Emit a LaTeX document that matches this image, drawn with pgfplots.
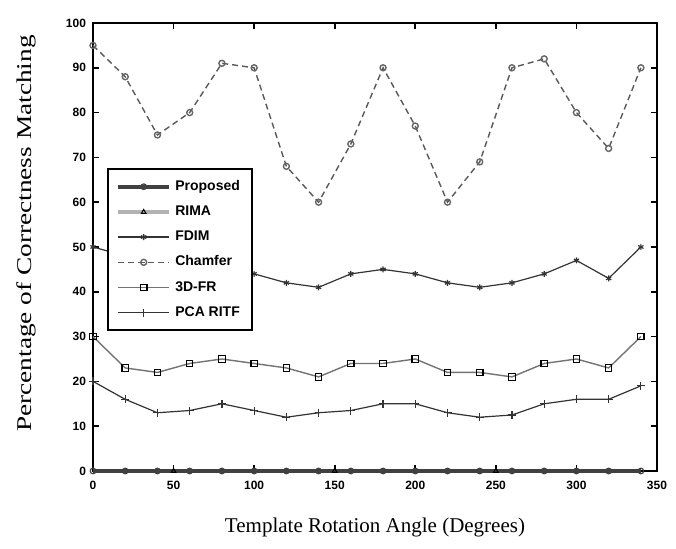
\documentclass[border=0pt]{standalone}
\usepackage{fontspec}
\setmainfont{Liberation Serif}
\newfontfamily\ticksf{Liberation Sans}
\usepackage{graphicx}
\usepackage{pgfplots}
\pgfplotsset{compat=1.18}

\begin{document}
\begin{tikzpicture}
\begin{axis}[
  width=282pt, height=224pt, scale only axis,
  xmin=0, xmax=350, ymin=0, ymax=100,
  xtick={0,50,...,350}, ytick={0,10,...,100},
  tick align=inside, major tick length=3pt,
  tick style={black, line width=0.8pt},
  axis line style={line width=1.2pt},
  tick label style={font=\ticksf\bfseries\fontsize{6}{7}\selectfont},
  xticklabel style={yshift=-1.5pt},
  /pgf/number format/assume math mode=true,
  xlabel={Template Rotation Angle (Degrees)},
  ylabel={\scalebox{1.3}[1.0]{Percentage of Correctness Matching}},
  label style={font=\fontsize{10.5}{12}\selectfont},
  xlabel style={at={(axis description cs:0.5,-0.125)}, anchor=center},
  ylabel style={at={(axis description cs:-0.118,0.53)}, anchor=center},
  clip=false,
  legend cell align=left,
  legend style={at={(rel axis cs:0.025,0.676)}, anchor=north west,
    font=\ticksf\bfseries\fontsize{7}{8.5}\selectfont,
    draw=black, line width=1pt, row sep=2.2pt, inner xsep=4pt, inner ysep=3.5pt},
  legend image code/.code={
    \draw[mark repeat=2,mark phase=2,#1] plot coordinates {(0cm,0cm) (0.45cm,0cm) (0.9cm,0cm)};},
]
\coordinate (ll) at (rel axis cs:0,0);
\coordinate (ur) at (rel axis cs:1,1);
% Proposed (thick, at zero)
\addplot[black!75, line width=2pt, mark=o, mark size=1.4pt, mark options={line width=0.6pt}]
coordinates {(0,0)(20,0)(40,0)(60,0)(80,0)(100,0)(120,0)(140,0)(160,0)(180,0)(200,0)(220,0)(240,0)(260,0)(280,0)(300,0)(320,0)(340,0)};
\addlegendentry{Proposed}
% RIMA (only its marks show, on the zero line)
\addplot[forget plot, only marks, black, mark=triangle, mark size=1.3pt, mark options={line width=0.5pt}]
coordinates {(50,0)(150,0)(250,0)};
\addlegendimage{black!30, line width=1.8pt, mark=triangle, mark size=1.3pt, mark options={black, line width=0.5pt}}
\addlegendentry{RIMA}
% FDIM
\addplot[black!80, line width=0.6pt, mark=asterisk, mark size=1.5pt]
coordinates {(0,50)(20,48)(40,47)(60,46)(80,45)(100,44)(120,42)(140,41)(160,44)(180,45)(200,44)(220,42)(240,41)(260,42)(280,44)(300,47)(320,43)(340,50)};
\addlegendentry{FDIM}
% Chamfer (top)
\addplot[black!65, line width=0.7pt, densely dashed, mark=o, mark size=1.5pt, mark options={solid, black!60}]
coordinates {(0,95)(20,88)(40,75)(60,80)(80,91)(100,90)(120,68)(140,60)(160,73)(180,90)(200,77)(220,60)(240,69)(260,90)(280,92)(300,80)(320,72)(340,90)};
\addlegendentry{Chamfer}
% 3D-FR
\addplot[black!55, line width=0.7pt, mark=square, mark size=1.6pt, mark options={black, line width=0.6pt}]
coordinates {(0,30)(20,23)(40,22)(60,24)(80,25)(100,24)(120,23)(140,21)(160,24)(180,24)(200,25)(220,22)(240,22)(260,21)(280,24)(300,25)(320,23)(340,30)};
\addlegendentry{3D-FR}
% PCA RITF
\addplot[black!80, line width=0.6pt, mark=+, mark size=2pt]
coordinates {(0,20)(20,16)(40,13)(60,13.5)(80,15)(100,13.5)(120,12)(140,13)(160,13.5)(180,15)(200,15)(220,13)(240,12)(260,12.5)(280,15)(300,16)(320,16)(340,19)};
\addlegendentry{PCA RITF}
\end{axis}
\pgfresetboundingbox
\path[use as bounding box] ([shift={(-46.5pt,-39pt)}]ll) rectangle ([shift={(9.5pt,11.5pt)}]ur);
\end{tikzpicture}
\end{document}
